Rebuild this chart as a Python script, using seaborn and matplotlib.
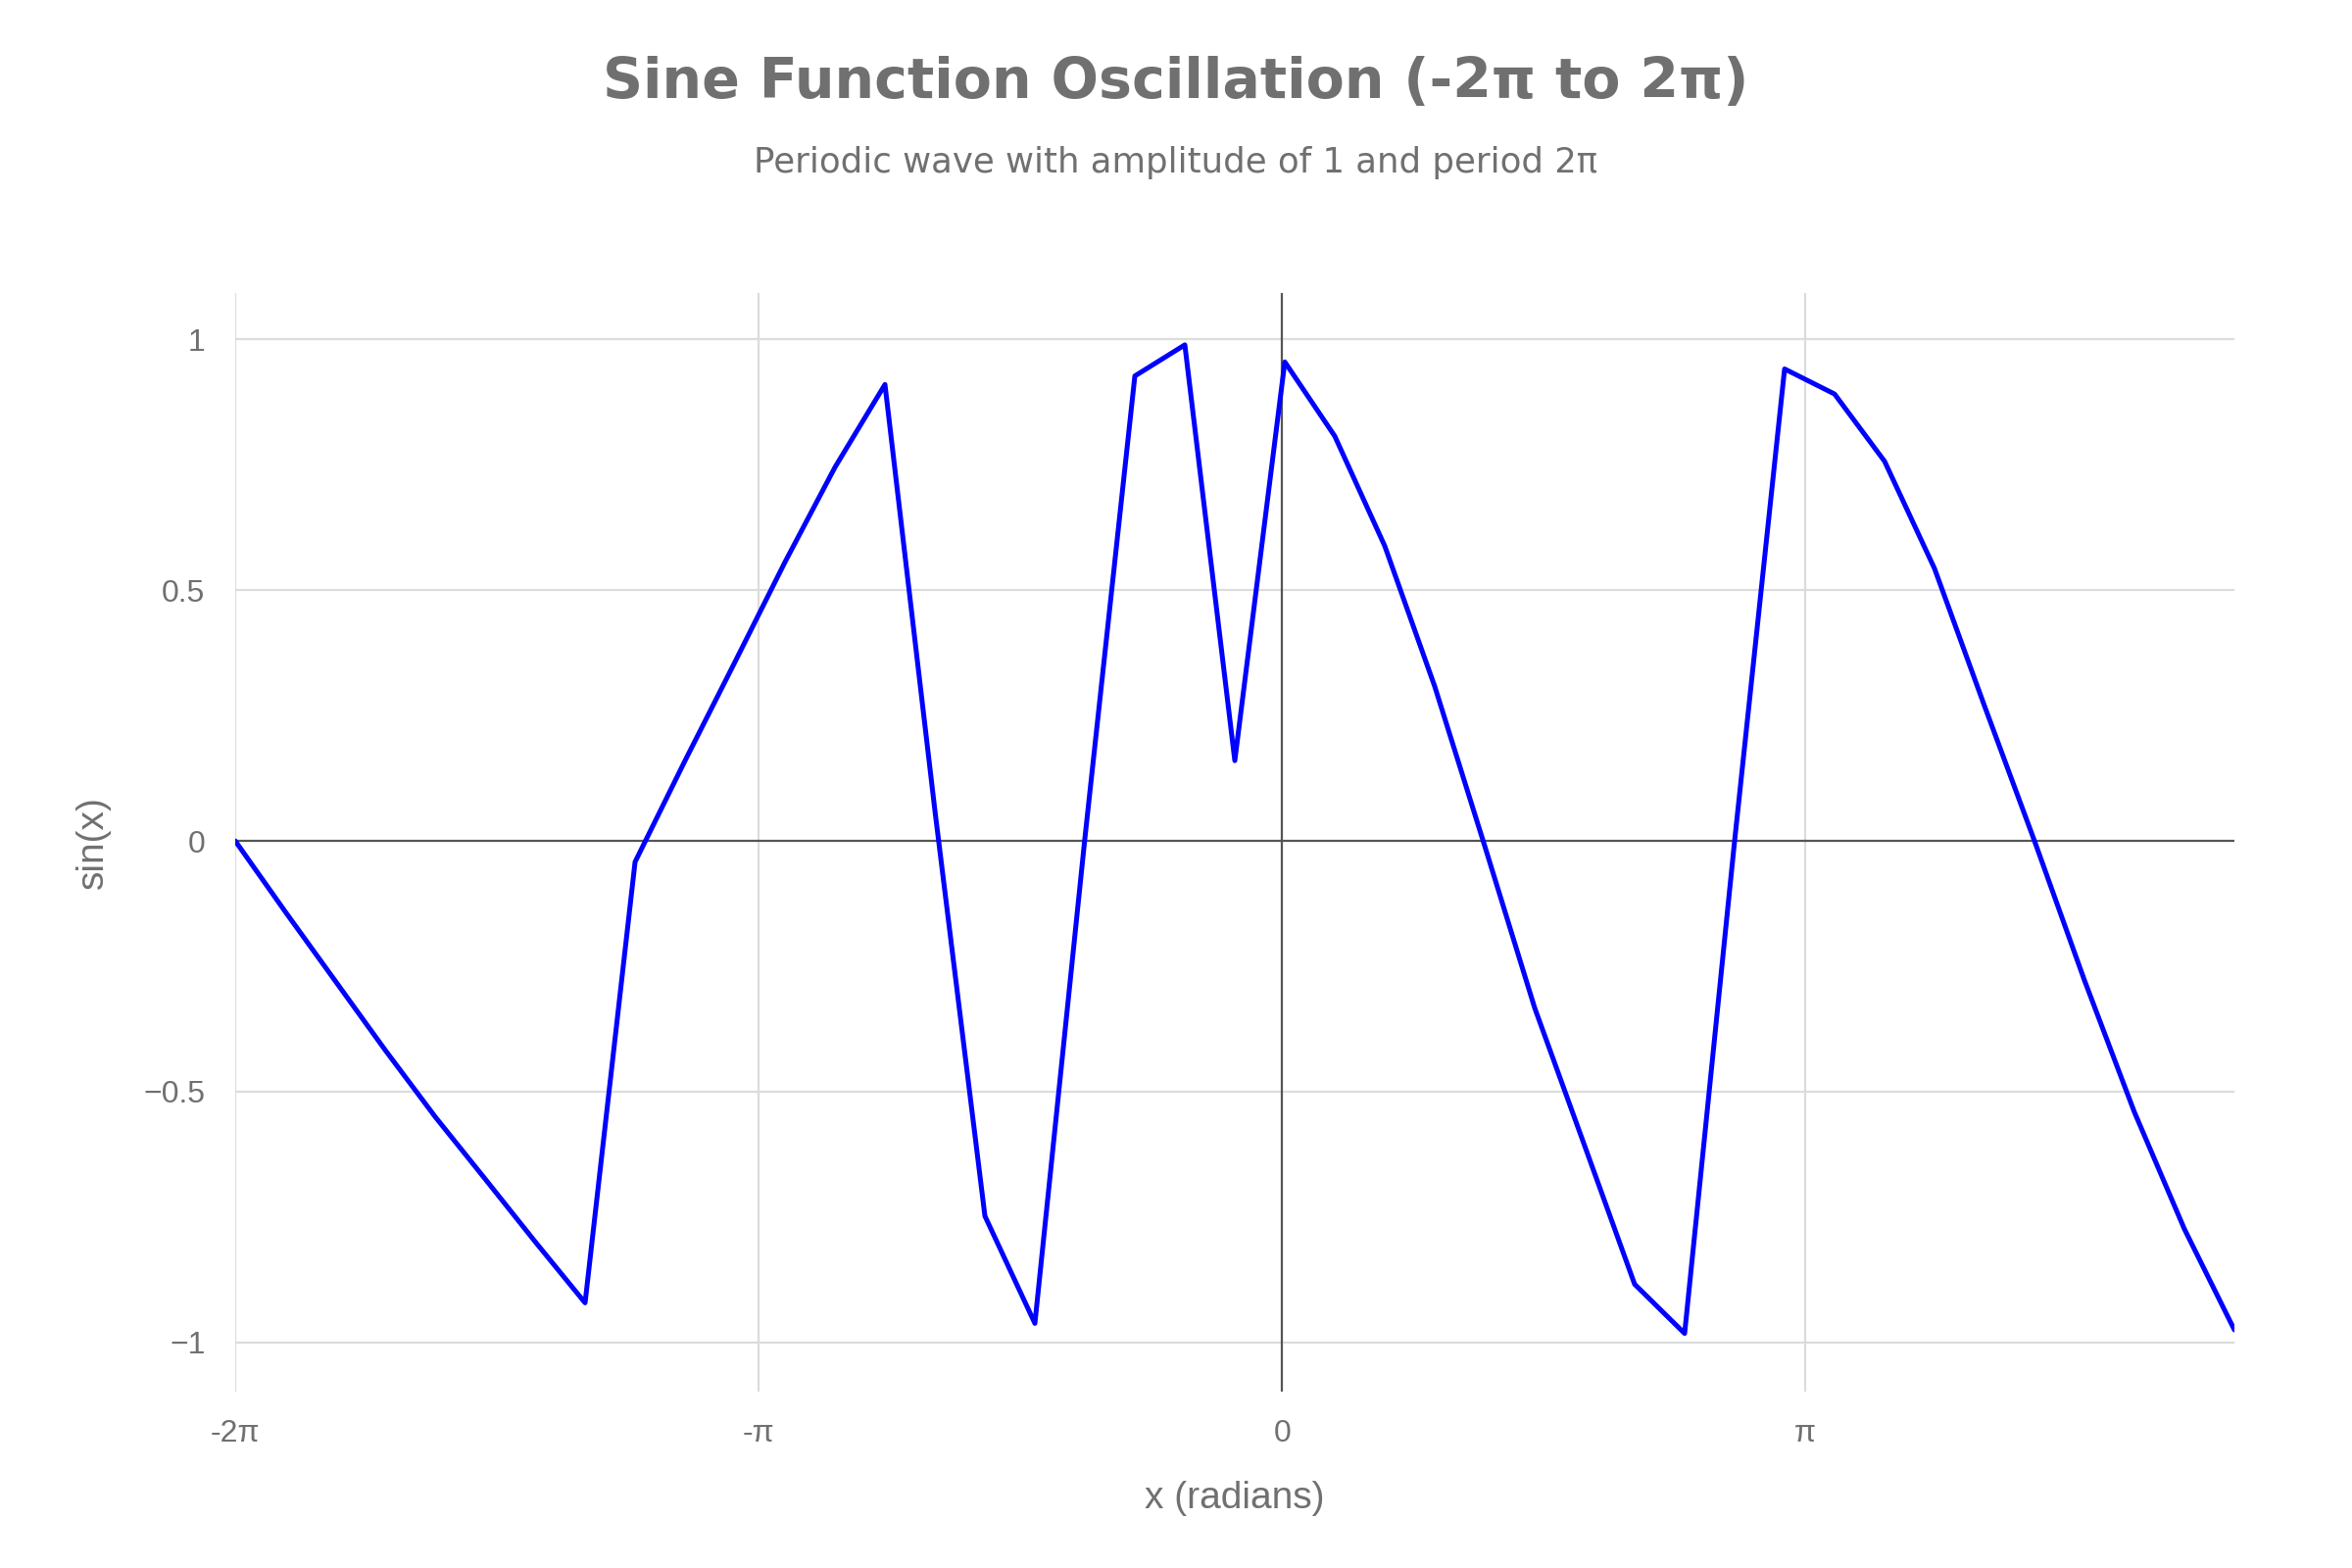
import numpy as np
import pandas as pd
import matplotlib
matplotlib.use("Agg")
import matplotlib.pyplot as plt
import seaborn as sns

# ---- data ----
x_values = [-6.283, -5.983, -5.683, -5.383, -5.083, -4.783, -4.483, -4.183,
            -3.883, -3.583, -3.283, -2.983, -2.683, -2.383, -2.083, -1.783,
            -1.483, -1.183, -0.883, -0.583, -0.283, 0.017, 0.317, 0.617,
            0.917, 1.217, 1.517, 1.817, 2.117, 2.417, 2.717, 3.017, 3.317,
            3.617, 3.917, 4.217, 4.517, 4.817, 5.117, 5.417, 5.717]
y_values = [0.000, -0.141, -0.279, -0.417, -0.550, -0.674, -0.799, -0.921,
            -0.042, 0.160, 0.357, 0.556, 0.745, 0.910, 0.060, -0.748,
            -0.962, 0.005, 0.927, 0.989, 0.160, 0.955, 0.807, 0.588,
            0.308, -0.010, -0.333, -0.608, -0.884, -0.982, 0.000, 0.941,
            0.891, 0.757, 0.543, 0.269, 0.000, -0.278, -0.541, -0.774, -0.975]
x_tick_values = [-2 * np.pi, -np.pi, 0.0, np.pi]
x_tick_labels = ["-2π", "-π", "0", "π"]
y_tick_values = [-1, -0.5, 0, 0.5, 1]
y_tick_labels = ["−1", "−0.5", "0", "0.5", "1"]

title = "Sine Function Oscillation (-2π to 2π)"
subtitle = "Periodic wave with amplitude of 1 and period 2π"
x_label = "x (radians)"
y_label = "sin(x)"

df = pd.DataFrame({"x": x_values, "y": y_values})

sns.set_theme(style="white")
plt.rcParams["font.family"] = ["DejaVu Sans"]

fig = plt.figure(figsize=(12, 8), dpi=200)
ax = fig.add_axes([0.1, 0.1125, 0.85, 0.7005])

grid_color = "#dcdcdc"
text_color = "#707070"
tick_font = ["Liberation Sans", "DejaVu Sans"]

# grid lines
for v in x_tick_values:
    if v != 0:
        ax.axvline(v, color=grid_color, lw=0.8, zorder=0)
for v in y_tick_values:
    if v != 0:
        ax.axhline(v, color=grid_color, lw=0.8, zorder=0)
ax.axhline(0, color="#555555", lw=0.8, zorder=1)
ax.axvline(0, color="#555555", lw=0.8, zorder=1)

sns.lineplot(data=df, x="x", y="y", ax=ax, color="#0000ff", linewidth=1.8,
             sort=False, zorder=3)

ax.set_xlim(min(x_values), max(x_values))
ax.set_ylim(-1.098, 1.092)

ax.set_xticks(x_tick_values)
ax.set_xticklabels(x_tick_labels, family=tick_font, fontsize=11.5, color=text_color)
ax.set_yticks(y_tick_values)
ax.set_yticklabels(y_tick_labels, family=tick_font, fontsize=11.5, color=text_color)
ax.tick_params(axis="both", which="major", length=4, width=0.8, color=grid_color,
               direction="out")
ax.tick_params(axis="x", pad=6)
ax.tick_params(axis="y", pad=7)

for s in ax.spines.values():
    s.set_visible(False)

ax.set_xlabel(x_label, family=tick_font, fontsize=14, color=text_color, labelpad=12)
ax.set_ylabel(y_label, family=tick_font, fontsize=14, color=text_color, labelpad=12)

fig.text(0.5, 0.947, title, ha="center", va="center", fontsize=20.5,
         fontweight="heavy", color=text_color, family=["DejaVu Sans"])
fig.text(0.5, 0.896, subtitle, ha="center", va="center", fontsize=12.8,
         color=text_color, family=["DejaVu Sans"])

fig.savefig("out.png", dpi=200, facecolor="white")
